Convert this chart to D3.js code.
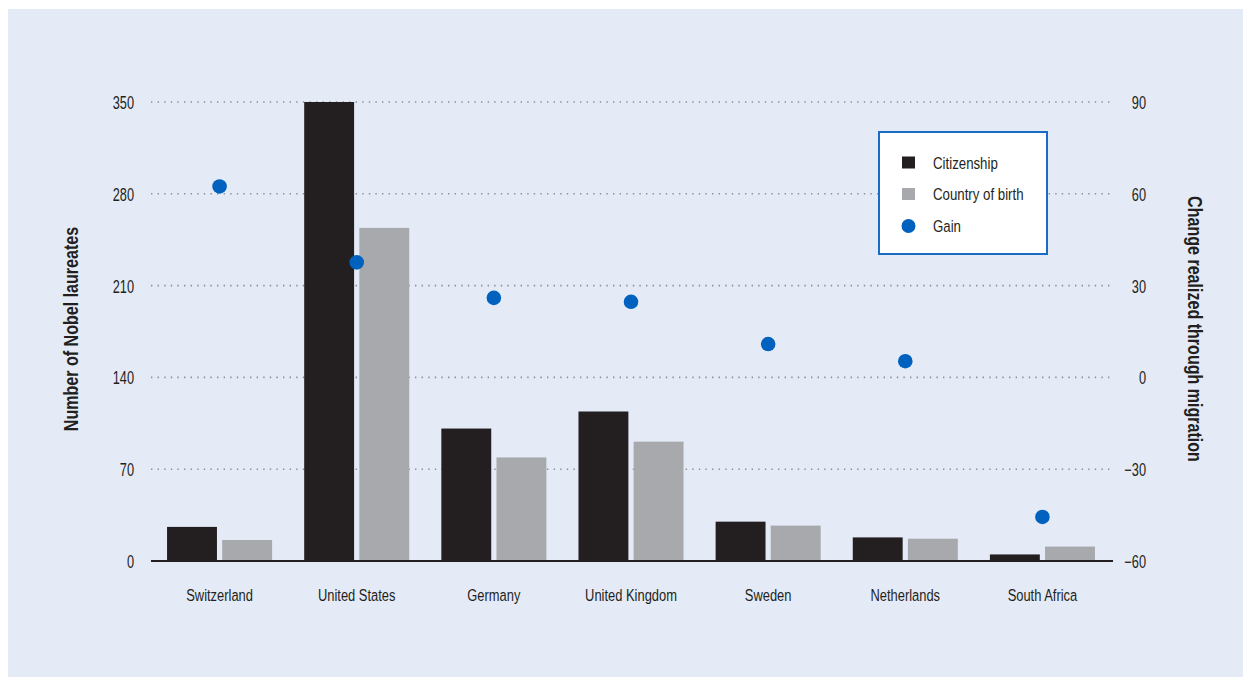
<!DOCTYPE html>
<html>
<head>
<meta charset="utf-8">
<script src="https://cdn.jsdelivr.net/npm/d3@7"></script>
<style>
  html, body { margin: 0; padding: 0; background: #ffffff; }
  svg { display: block; }
  text { font-family: "Liberation Sans", Arial, sans-serif; fill: #231f20; }
</style>
</head>
<body>
<svg id="chart" width="1243" height="677"></svg>
<script>
// ---- Data ----
const categories = ["Switzerland", "United States", "Germany", "United Kingdom", "Sweden", "Netherlands", "South Africa"];
const citizenship = [26, 350, 101, 114, 30, 18, 5];
const countryOfBirth = [16, 254, 79, 91, 27, 17, 11];
const gain = [62.4, 37.6, 26.0, 24.7, 10.9, 5.3, -45.6];
const leftTicks = [0, 70, 140, 210, 280, 350];
const rightTicks = [-60, -30, 0, 30, 60, 90];
const seriesNames = ["Citizenship", "Country of birth", "Gain"];
const leftTitle = "Number of Nobel laureates";
const rightTitle = "Change realized through migration";

// ---- Styles ----
const colBlack = "#231f20", colGray = "#a7a9ac", colBlue = "#0061bf", colBg = "#e4ebf7";
const SX = 0.76;      // horizontal condensing of regular text
const SXT = 0.765;    // condensing of bold titles

// condense text horizontally (keeps its anchor position)
function condense(sel, sx) {
  sel.each(function () {
    const t = d3.select(this);
    const x = +(t.attr("x") || 0);
    t.attr("x", x / sx).attr("transform", `scale(${sx},1)`);
  });
}

const svg = d3.select("#chart");
svg.append("rect").attr("x", 8).attr("y", 9).attr("width", 1235).attr("height", 668).attr("fill", colBg);

const plotLeft = 151, plotRight = 1113, plotTop = 102, plotBottom = 561;

const x0 = d3.scaleBand().domain(categories).range([plotLeft, 1111]).paddingInner(0.234).paddingOuter(0.117);
const x1 = d3.scaleBand().domain(["cit", "birth"]).range([0, x0.bandwidth()]).paddingInner(0.095);
const yL = d3.scaleLinear().domain([0, 350]).range([plotBottom, plotTop]);
const yR = d3.scaleLinear().domain([-60, 90]).range([plotBottom, plotTop]);

// gridlines
svg.append("g").selectAll("line").data(leftTicks.filter(d => d !== 0)).join("line")
  .attr("x1", plotLeft).attr("x2", plotRight)
  .attr("y1", d => yL(d)).attr("y2", d => yL(d))
  .attr("stroke", "#8c8f94").attr("stroke-width", 1.6)
  .attr("stroke-dasharray", "1.4 5.2");

// bars
const rows = categories.map((c, i) => ({ c, cit: citizenship[i], birth: countryOfBirth[i], gain: gain[i] }));
const groups = svg.append("g").selectAll("g").data(rows).join("g")
  .attr("transform", d => `translate(${x0(d.c)},0)`);
groups.append("rect")
  .attr("x", x1("cit")).attr("width", x1.bandwidth())
  .attr("y", d => yL(d.cit)).attr("height", d => yL(0) - yL(d.cit))
  .attr("fill", colBlack);
groups.append("rect")
  .attr("x", x1("birth")).attr("width", x1.bandwidth())
  .attr("y", d => yL(d.birth)).attr("height", d => yL(0) - yL(d.birth))
  .attr("fill", colGray);

// baseline
svg.append("line").attr("x1", plotLeft).attr("x2", plotRight)
  .attr("y1", yL(0)).attr("y2", yL(0))
  .attr("stroke", colBlack).attr("stroke-width", 2);

// dots
svg.append("g").selectAll("circle").data(rows).join("circle")
  .attr("cx", d => x0(d.c) + x0.bandwidth() / 2)
  .attr("cy", d => yR(d.gain))
  .attr("r", 7.3).attr("fill", colBlue);

// left axis
const axL = svg.append("g").attr("transform", `translate(${plotLeft},0)`)
  .call(d3.axisLeft(yL).tickValues(leftTicks).tickSize(0).tickPadding(17).tickFormat(d3.format("d")));
axL.select(".domain").remove();
axL.selectAll("text").attr("font-size", 18).attr("font-family", null).attr("fill", colBlack).attr("dy", "0.36em");
condense(axL.selectAll("text"), 0.71);

// right axis
const fmtR = d => (d < 0 ? "\u2212" + Math.abs(d) : String(d));
const axR = svg.append("g").attr("transform", `translate(${plotRight},0)`)
  .call(d3.axisRight(yR).tickValues(rightTicks).tickSize(0).tickFormat(fmtR));
axR.select(".domain").remove();
axR.selectAll("text").attr("font-size", 18).attr("font-family", null).attr("fill", colBlack)
  .attr("text-anchor", "end").attr("x", 33).attr("dy", "0.36em");
condense(axR.selectAll("text"), 0.71);

// x labels
const axX = svg.append("g").attr("transform", `translate(0,${plotBottom})`)
  .call(d3.axisBottom(x0).tickSize(0));
axX.select(".domain").remove();
axX.selectAll("text").attr("font-size", 17).attr("font-family", null).attr("fill", colBlack)
  .attr("y", 40).attr("dy", null);
condense(axX.selectAll("text"), SX);

// axis titles
svg.append("g").attr("transform", `translate(78,329) rotate(-90)`)
  .append("text").attr("text-anchor", "middle").attr("font-size", 21).attr("font-weight", "bold")
  .attr("transform", `scale(${SXT},1)`).text(leftTitle);
svg.append("g").attr("transform", `translate(1188,329) rotate(90)`)
  .append("text").attr("text-anchor", "middle").attr("font-size", 21).attr("font-weight", "bold")
  .attr("transform", `scale(${SXT},1)`).text(rightTitle);

// legend
const lg = svg.append("g");
lg.append("rect").attr("x", 879).attr("y", 132).attr("width", 168).attr("height", 122)
  .attr("fill", "#ffffff").attr("stroke", "#1b6cc4").attr("stroke-width", 2);
const legY = [162.5, 194, 226];
const legColors = [colBlack, colGray, colBlue];
seriesNames.forEach((name, i) => {
  if (i < 2) {
    lg.append("rect").attr("x", 902).attr("y", legY[i] - 6).attr("width", 13).attr("height", 12).attr("fill", legColors[i]);
  } else {
    lg.append("circle").attr("cx", 908.5).attr("cy", legY[i]).attr("r", 7).attr("fill", legColors[i]);
  }
  const t = lg.append("text").attr("x", 933).attr("y", legY[i]).attr("dy", "0.36em")
    .attr("font-size", 17).text(name);
  condense(t, 0.78);
});
</script>
</body>
</html>
